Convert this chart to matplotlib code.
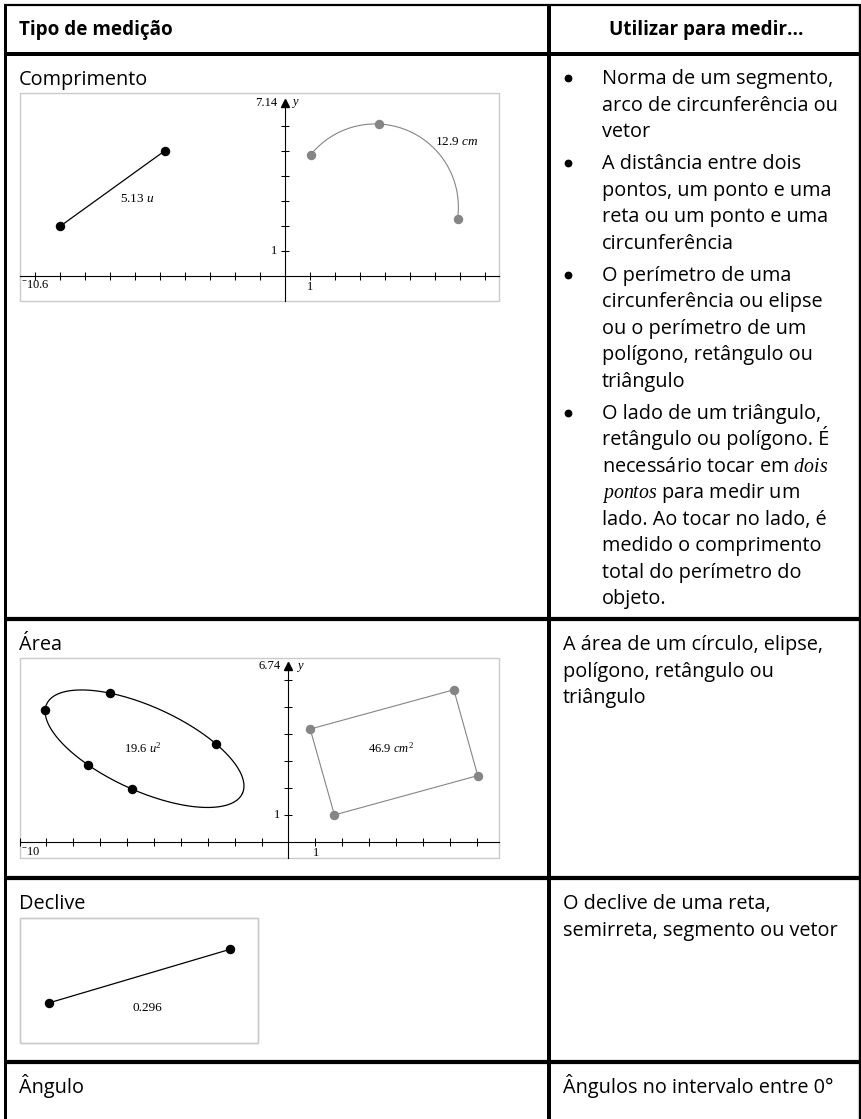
import numpy as np
import matplotlib
matplotlib.use("Agg")
import matplotlib.pyplot as plt
from matplotlib.patches import Rectangle

plt.rcParams["mathtext.fontset"] = "custom"
plt.rcParams["mathtext.rm"] = "Liberation Serif"
plt.rcParams["mathtext.it"] = "Liberation Serif:italic"
plt.rcParams["mathtext.bf"] = "Liberation Serif:bold"

# ---------------- table text ----------------
HEADER_LEFT = "Tipo de medição"
HEADER_RIGHT = "Utilizar para medir..."
ROW_NAMES = ["Comprimento", "Área", "Declive", "Ângulo"]

ROW1_BULLETS = [
    ["Norma de um segmento,", "arco de circunferência ou", "vetor"],
    ["A distância entre dois", "pontos, um ponto e uma", "reta ou um ponto e uma",
     "circunferência"],
    ["O perímetro de uma", "circunferência ou elipse", "ou o perímetro de um",
     "polígono, retângulo ou", "triângulo"],
    ["O lado de um triângulo,", "retângulo ou polígono. É",
     r"necessário tocar em $\mathit{dois}$", r"$\mathit{pontos}$ para medir um",
     "lado. Ao tocar no lado, é", "medido o comprimento",
     "total do perímetro do", "objeto."],
]
ROW2_LINES = ["A área de um círculo, elipse,", "polígono, retângulo ou", "triângulo"]
ROW3_LINES = ["O declive de uma reta,", "semirreta, segmento ou vetor"]
ROW4_LINES = ["Ângulos no intervalo entre 0°"]

# ---------------- graph 1 : Comprimento ----------------
G1_WIN_X = [-10.6, 8.58]
G1_WIN_Y = [-1.0, 7.32]
G1_YMAX = 7.14
G1_YMAX_LABEL = "7.14"
G1_XMIN_LABEL = r"${}^{-}$10.6"
G1_XTICKS = [-10, -9, -8, -7, -6, -5, -4, -3, -2, -1, 1, 2, 3, 4, 5, 6, 7, 8]
G1_YTICKS = [1, 2, 3, 4, 5, 6]
SEG_X = [-8.96, -4.8]
SEG_Y = [2.0, 5.0]
SEG_LABEL = r"5.13 $u$"
ARC_X = [1.04, 3.76, 6.92]
ARC_Y = [4.84, 6.08, 2.28]
ARC_LABEL = r"12.9 $cm$"

# ---------------- graph 2 : Área ----------------
G2_WIN_X = [-10.0, 7.83]
G2_WIN_Y = [-0.6, 6.83]
G2_YMAX = 6.74
G2_YMAX_LABEL = "6.74"
G2_XMIN_LABEL = r"${}^{-}$10"
G2_XTICKS = [-10, -9, -8, -7, -6, -5, -4, -3, -2, -1, 1, 2, 3, 4, 5, 6, 7]
G2_YTICKS = [1, 2, 3, 4, 5, 6]
ELL_CENTER = [-5.35, 3.46]
ELL_AXES = [4.0, 1.56]
ELL_ANGLE = -24.5
ELL_PTS_T = [188.7, 120.4, 54.4, 245.6, 272.9]
ELL_LABEL = r"19.6 $u^2$"
RECT_X = [0.81, 6.15, 7.04, 1.71]
RECT_Y = [4.19, 5.65, 2.46, 1.00]
RECT_LABEL = r"46.9 $cm^2$"

# ---------------- graph 3 : Declive ----------------
G3_WIN_X = [0.0, 9.55]
G3_WIN_Y = [0.0, 5.0]
SLOPE_X = [1.2, 8.44]
SLOPE_Y = [1.61, 3.75]
SLOPE_LABEL = "0.296"

# ---------------- figure ----------------
W, H, DPI = 861, 1119, 100
fig = plt.figure(figsize=(W / DPI, H / DPI), dpi=DPI)
fig.patch.set_facecolor("white")
base = fig.add_axes([0, 0, 1, 1])
base.set_xlim(0, W)
base.set_ylim(H, 0)
base.axis("off")

PX = 72.0 / DPI
SANS = "Open Sans"
SERIF = ["Liberation Serif", "DejaVu Serif"]
BODY = 14.3
HEAD = 13.6
GREY = "#858585"
BOXGREY = "#cacaca"


def hline(y, x0, x1, w):
    base.plot([x0, x1], [y, y], color="black", lw=w * PX, solid_capstyle="butt")


def vline(x, y0, y1, w):
    base.plot([x, x], [y0, y1], color="black", lw=w * PX, solid_capstyle="butt")


# table rules
hline(5.0, 3.5, W, 2.2)
hline(53.7, 3.5, W, 4.0)
hline(619.0, 3.5, W, 4.2)
hline(878.0, 3.5, W, 4.2)
hline(1062.0, 3.5, W, 4.2)
vline(5.0, 3.9, H, 3.0)
vline(859.8, 3.9, H, 2.4)
vline(548.7, 3.9, H, 4.0)

# header
base.text(19, 35, HEADER_LEFT, family=SANS, weight="bold", fontsize=HEAD,
          ha="left", va="baseline")
base.text(706, 35, HEADER_RIGHT, family=SANS, weight="bold", fontsize=HEAD,
          ha="center", va="baseline")

# left labels
for name, yb in zip(ROW_NAMES, [85.3, 650.3, 909.3, 1093.3]):
    base.text(19, yb, name, family=SANS, fontsize=BODY, ha="left", va="baseline")

# right column, row 1 bullets
LINE, GAP = 26.5, 5.5
y = 84.3
for group in ROW1_BULLETS:
    base.plot([568], [y - 6.0], marker="o", ms=4.6, color="black", ls="none")
    for ln in group:
        base.text(602, y, ln, family=SANS, fontsize=BODY, ha="left", va="baseline")
        y += LINE
    y += GAP

for lines, y0 in [(ROW2_LINES, 650.3), (ROW3_LINES, 909.3), (ROW4_LINES, 1093.3)]:
    for i, ln in enumerate(lines):
        base.text(563, y0 + i * LINE, ln, family=SANS, fontsize=BODY,
                  ha="left", va="baseline")


# ---------------- graph helpers ----------------
def graph_axes(box, wx, wy):
    x0, y0, x1, y1 = box
    ax = fig.add_axes([x0 / W, 1 - y1 / H, (x1 - x0) / W, (y1 - y0) / H])
    ax.set_xlim(wx)
    ax.set_ylim(wy)
    ax.patch.set_alpha(0)
    ax.add_patch(Rectangle((0, 0), 1, 1, transform=ax.transAxes, fill=False,
                           ec=BOXGREY, lw=1.0, clip_on=False, zorder=0))
    return ax


def coord_system(ax, xticks, yticks, ymax, ymax_label, xmin_label):
    for s in ["top", "right"]:
        ax.spines[s].set_visible(False)
    ax.spines["bottom"].set_position(("data", 0))
    ax.spines["left"].set_position(("data", 0))
    ax.spines["left"].set_bounds(ax.get_ylim()[0], ymax - 0.15)
    for s in ["bottom", "left"]:
        ax.spines[s].set_linewidth(0.8)
        ax.spines[s].set_color("black")
    ax.set_xticks(xticks)
    ax.set_yticks(yticks)
    ax.tick_params(direction="inout", length=5.5, width=0.75, color="black",
                   labelbottom=False, labelleft=False)
    ax.plot([0], [ymax - 0.2], marker="^", ms=6, color="black",
            clip_on=False, zorder=5)
    xl = ax.get_xlim()
    ax.text(-0.3, ymax - 0.2, ymax_label, family=SERIF, fontsize=9,
            ha="right", va="center")
    ax.text(0.42, ymax - 0.2, "y", family=SERIF, style="italic", fontsize=9,
            ha="center", va="center")
    ax.text(-0.3, 1, "1", family=SERIF, fontsize=9, ha="right", va="center")
    ax.text(1.02, -0.42, "1", family=SERIF, fontsize=9, ha="center", va="center")
    ax.text(xl[0] + 0.05, -0.38, xmin_label, family=SERIF, fontsize=9,
            ha="left", va="center")


# ---------------- graph 1 ----------------
ax1 = graph_axes((19.5, 93, 499, 301), G1_WIN_X, G1_WIN_Y)
coord_system(ax1, G1_XTICKS, G1_YTICKS, G1_YMAX, G1_YMAX_LABEL, G1_XMIN_LABEL)
ax1.plot(SEG_X, SEG_Y, color="black", lw=0.9, marker="o", ms=5.8, zorder=4)
ax1.text(-5.9, 3.1, SEG_LABEL, family=SERIF, fontsize=9.5, ha="center", va="center")

# arc through three points
ax_, ay_ = np.array(ARC_X), np.array(ARC_Y)
A = np.array([[2 * (ax_[1] - ax_[0]), 2 * (ay_[1] - ay_[0])],
              [2 * (ax_[2] - ax_[0]), 2 * (ay_[2] - ay_[0])]])
b = np.array([ax_[1] ** 2 + ay_[1] ** 2 - ax_[0] ** 2 - ay_[0] ** 2,
              ax_[2] ** 2 + ay_[2] ** 2 - ax_[0] ** 2 - ay_[0] ** 2])
cx, cy = np.linalg.solve(A, b)
r = np.hypot(ax_[0] - cx, ay_[0] - cy)
a0 = np.arctan2(ay_[0] - cy, ax_[0] - cx)
a2 = np.arctan2(ay_[2] - cy, ax_[2] - cx)
if a2 > a0:
    a2 -= 2 * np.pi
th = np.linspace(a0, a2, 200)
ax1.plot(cx + r * np.cos(th), cy + r * np.sin(th), color=GREY, lw=0.8)
ax1.plot(ARC_X, ARC_Y, ls="none", marker="o", ms=5.8, color=GREY, zorder=4)
ax1.text(6.88, 5.36, ARC_LABEL, family=SERIF, fontsize=9.5, ha="center", va="center")

# ---------------- graph 2 ----------------
ax2 = graph_axes((19.5, 658, 499, 858), G2_WIN_X, G2_WIN_Y)
coord_system(ax2, G2_XTICKS, G2_YTICKS, G2_YMAX, G2_YMAX_LABEL, G2_XMIN_LABEL)
phi = np.radians(ELL_ANGLE)


def ell_xy(t):
    u = ELL_AXES[0] * np.cos(t)
    v = ELL_AXES[1] * np.sin(t)
    return (ELL_CENTER[0] + u * np.cos(phi) - v * np.sin(phi),
            ELL_CENTER[1] + u * np.sin(phi) + v * np.cos(phi))


ex, ey = ell_xy(np.linspace(0, 2 * np.pi, 400))
ax2.plot(ex, ey, color="black", lw=0.9)
px_, py_ = ell_xy(np.radians(ELL_PTS_T))
ax2.plot(px_, py_, ls="none", marker="o", ms=5.8, color="black", zorder=4)
ax2.text(-5.43, 3.49, ELL_LABEL, family=SERIF, fontsize=9, ha="center", va="center")

ax2.fill(RECT_X, RECT_Y, facecolor="none", edgecolor=GREY, lw=0.8)
ax2.plot(RECT_X, RECT_Y, ls="none", marker="o", ms=5.8, color=GREY, zorder=4)
ax2.text(3.82, 3.49, RECT_LABEL, family=SERIF, fontsize=9, ha="center", va="center")

# ---------------- graph 3 ----------------
ax3 = graph_axes((19.5, 918, 258, 1043), G3_WIN_X, G3_WIN_Y)
ax3.axis("off")
ax3.add_patch(Rectangle((0, 0), 1, 1, transform=ax3.transAxes, fill=False,
                        ec=BOXGREY, lw=1.0, clip_on=False, zorder=0))
ax3.plot(SLOPE_X, SLOPE_Y, color="black", lw=0.9, marker="o", ms=5.8)
ax3.text(5.11, 1.4, SLOPE_LABEL, family=SERIF, fontsize=9.5, ha="center", va="center")

fig.savefig("out.png", dpi=DPI, facecolor="white")
